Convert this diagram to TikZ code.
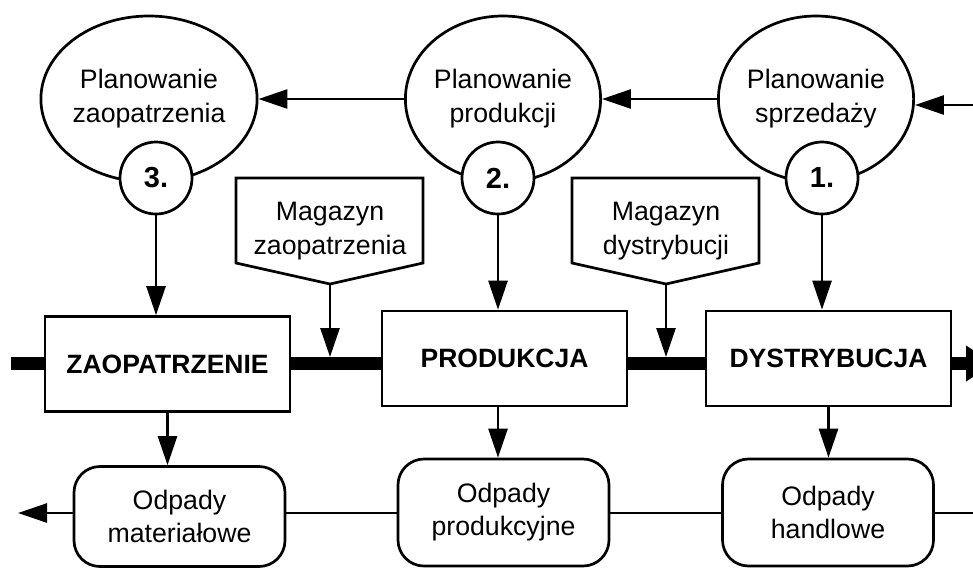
\documentclass[tikz,border=0pt]{standalone}
\usepackage{fontspec}
\setmainfont{Liberation Sans}
\usetikzlibrary{shapes.geometric,arrows.meta}
\tikzset{
  lw/.style={line width=2.7pt},
  big/.style={ellipse, draw, lw, minimum width=188pt, minimum height=166pt, inner sep=0pt, align=center, font=\fontsize{26.7}{34}\selectfont},
  num/.style={circle, draw, fill=white, lw, minimum size=72pt, inner sep=0pt, font=\bfseries\fontsize{29}{29}\selectfont},
  proc/.style={rectangle, draw, lw, minimum width=245pt, minimum height=95pt, inner sep=0pt, font=\bfseries\fontsize{26.5}{30}\selectfont},
  waste/.style={rectangle, draw, lw, rounded corners=26pt, minimum width=211pt, minimum height=107pt, inner sep=0pt, align=center, font=\fontsize{26.7}{33}\selectfont},
  txt/.style={inner sep=0pt, align=center, font=\fontsize{26.7}{34}\selectfont},
  arr/.style={lw, -{Triangle[length=29pt,width=19pt]}},
  plain/.style={lw},
  bar/.style={line width=13pt},
  magbox/.style={draw, lw, line join=miter}
}
\begin{document}
\begin{tikzpicture}[x=1pt,y=-1pt]
\useasboundingbox (0,0) rectangle (973,568);

% planning circles
\node[big] (c3) at (149,99) {Planowanie\\zaopatrzenia};
\node[big] (c2) at (503,99) {Planowanie\\produkcji};
\node[big] (c1) at (816,99) {Planowanie\\sprzedaży};
\node[num] (n3) at (156,178) {3.};
\node[num] (n2) at (498,178) {2.};
\node[num] (n1) at (822,178) {1.};

\draw[arr] (c2.west) -- (c3.east);
\draw[arr] (c1.west) -- (c2.east);
\coordinate (rin) at (985,105);
\draw[arr] (rin) -- (rin -| c1.east);

% process boxes
\node[proc] (z) at (167.5,364) {ZAOPATRZENIE};
\node[proc] (p) at (504.5,358.5) {PRODUKCJA};
\node[proc] (d) at (828.5,358.5) {DYSTRYBUCJA};

\draw[arr] (n3.south) -- (n3.south |- z.north);
\draw[arr] (n2.south) -- (n2.south |- p.north);
\draw[arr] (n1.south) -- (n1.south |- d.north);

% thick flow bar
\coordinate (bl) at (11,363.5);
\coordinate (br) at (966,363.5);
\coordinate (bartop) at (0,357);
\draw[bar] (bl) -- (bl -| z.west);
\draw[bar] (z.east |- bl) -- (p.west |- bl);
\draw[bar] (p.east |- bl) -- (d.west |- bl);
\draw[bar] (d.east |- bl) -- (br);
\fill (br) ++(0,-18) -- ++(28,18) -- ++(-28,18) -- cycle;

% warehouses
\draw[magbox] (236,178) -- (423,178) -- (423,263) -- (330,284) coordinate (mz) -- (236,263) -- cycle;
\node[txt] (mzt) at (330,231) {Magazyn\\zaopatrzenia};
\draw[magbox] (572,178) -- (759,178) -- (759,263) -- (666,284) coordinate (md) -- (572,263) -- cycle;
\node[txt] (mdt) at (666,231) {Magazyn\\dystrybucji};
\draw[arr] (mz) -- (mz |- bartop);
\draw[arr] (md) -- (md |- bartop);

% waste boxes
\node[waste, minimum height=100pt] (om) at (179.5,516.5) {Odpady\\materiałowe};
\node[waste] (op) at (503.5,512.5) {Odpady\\produkcyjne};
\node[waste] (oh) at (828,512.5) {Odpady\\handlowe};

\draw[arr] (z.south) -- (z.south |- om.north);
\draw[arr] (n2.south |- p.south) -- (n2.south |- op.north);
\draw[arr] (d.south) -- (d.south |- oh.north);

\coordinate (ll) at (18,513);
\coordinate (lr) at (985,513);
\draw[arr] (om.west |- ll) -- (ll);
\draw[plain] (om.east |- ll) -- (op.west |- ll);
\draw[plain] (op.east |- ll) -- (oh.west |- ll);
\draw[plain] (oh.east |- ll) -- (lr);
\end{tikzpicture}
\end{document}
